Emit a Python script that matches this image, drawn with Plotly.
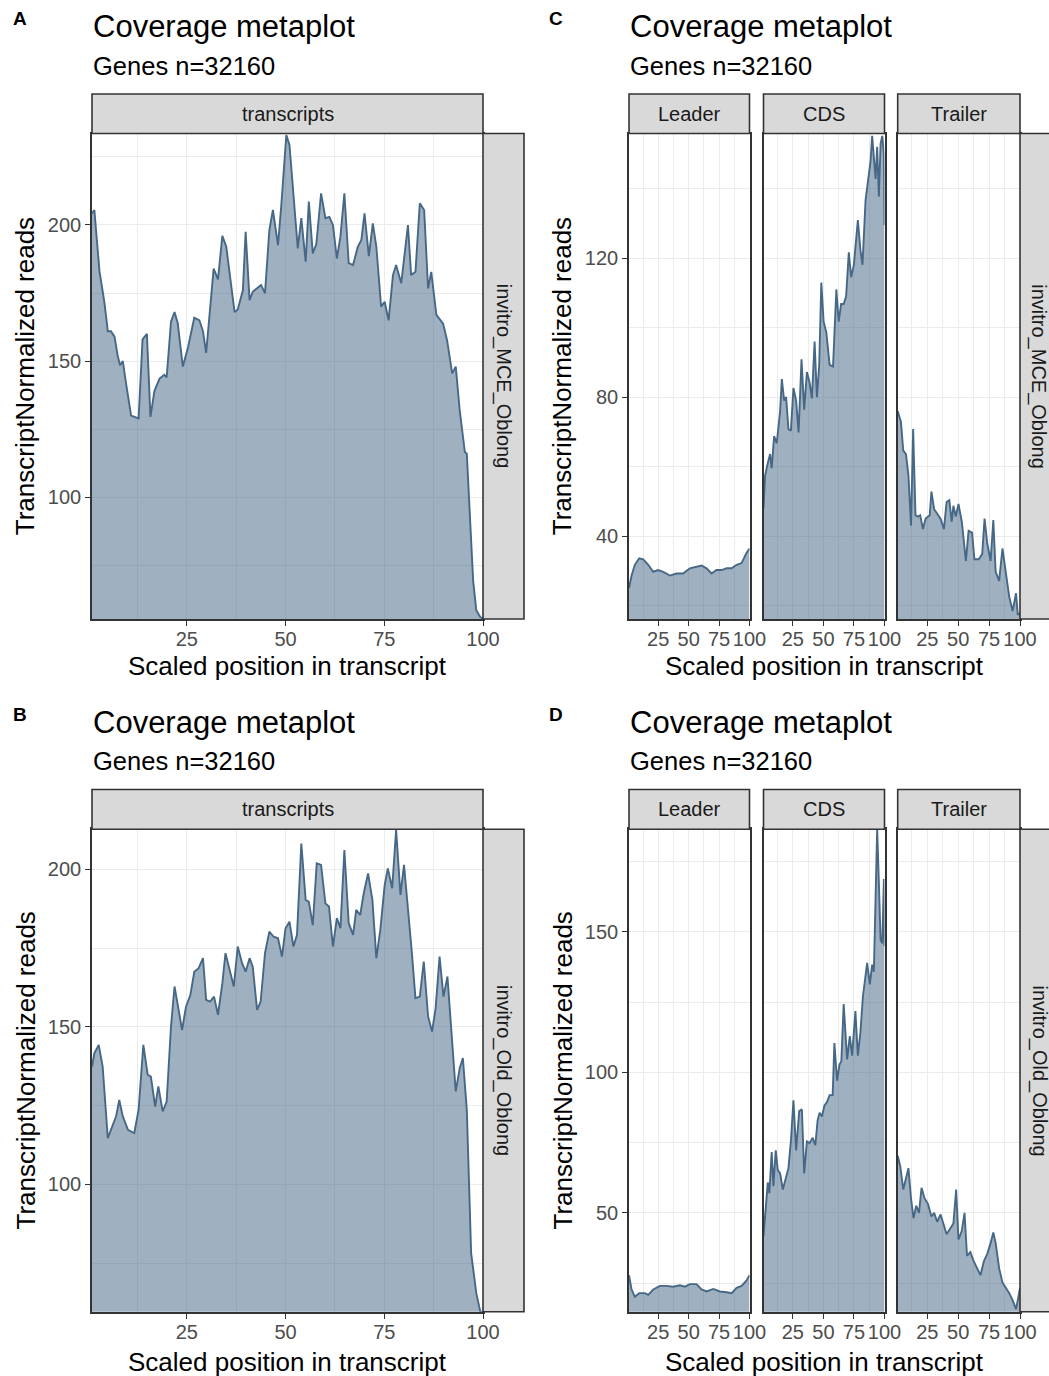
import plotly.graph_objects as go

# ---------------- data ----------------
X_TICKS = [25, 50, 75, 100]
Y_TICKS_A = [100, 150, 200]
Y_TICKS_C = [40, 80, 120]
Y_TICKS_B = [100, 150, 200]
Y_TICKS_D = [50, 100, 150]

FACETS = ["Leader", "CDS", "Trailer"]
SAMPLE_TOP = "invitro_MCE_Oblong"
SAMPLE_BOTTOM = "invitro_Old_Oblong"

# Panel A: invitro_MCE_Oblong, transcripts
mce_tx_x = [1, 1.6, 2.9, 4.1, 5.0, 5.8, 6.7, 7.5, 8.1, 8.8, 9.6, 10.9, 12.8, 13.8, 14.9, 15.8, 16.8, 18.1, 19.3, 19.9,
            21.0, 21.9, 22.7, 24.0, 25.3, 26.9, 28.2, 29.1, 29.9, 31.8, 32.9, 34.0, 35.0, 37.1, 37.9, 39.2, 39.9, 40.9,
            41.7, 43.8, 44.8, 45.9, 46.8, 48.1, 48.9, 50.2, 51.0, 52.0, 53.1, 54.0, 55.1, 55.9, 56.9, 57.8, 59.0, 60.1,
            61.1, 62.0, 63.0, 63.9, 64.9, 66.0, 67.1, 68.3, 69.2, 70.0, 71.1, 72.1, 73.0, 74.2, 75.1, 76.1, 77.2, 78.0,
            79.3, 81.0, 81.8, 82.9, 84.0, 85.1, 86.1, 86.9, 88.2, 89.9, 90.9, 92.2, 93.1, 94.1, 95.4, 95.9, 97.5, 98.3,
            99.3, 100]
mce_tx_y = [204.3, 205.5, 183, 172, 161, 161, 159, 152, 148.5, 150, 142, 130, 129, 158, 160, 129.5, 139, 143.6, 145,
            144, 164.5, 168, 164, 148, 155, 166, 165, 161, 153, 184, 180, 196, 192, 168, 169, 176, 197.5, 172.4, 175.5,
            178, 175, 198, 205.5, 192.6, 206.7, 233, 229.4, 210, 191.4, 202.5, 186.5, 208.6, 189.6, 193, 211.6, 202.5,
            203, 200, 187.7, 195.7, 211.6, 186, 185.3, 192, 194.5, 204.3, 188.6, 200.6, 192, 170, 171.8, 165, 181.6,
            185.3, 178.6, 200, 181.6, 182.8, 208, 205.5, 176.7, 182.8, 167, 163.8, 157.7, 145.5, 148, 132, 116.7, 116,
            69.5, 58.5, 56, 55.5]

# Panel C: invitro_MCE_Oblong, Leader / CDS / Trailer
mce_leader_x = [1, 3.1, 5.8, 9.4, 12.7, 16.8, 20.9, 25, 29.1, 34.6, 40.1, 45.5, 51.0, 56.5, 60.6, 64.7, 68.8, 72.9,
                77.1, 81.2, 85.3, 89.4, 93.5, 97.1, 100]
mce_leader_y = [25, 28.6, 31.7, 33.6, 33.3, 31.7, 29.7, 30.2, 29.7, 28.6, 29.2, 29.2, 30.7, 31.2, 31.5, 30.7, 29.2,
                30.2, 30.2, 30.7, 30.7, 31.7, 32.2, 34.8, 36.4]
mce_cds_x = [1, 2.3, 4.2, 6.4, 7.7, 9.7, 11.8, 14.6, 16.0, 17.9, 19.5, 21.4, 23.4, 25.5, 27.7, 29.7, 32.1, 34.3, 36.5,
             38.7, 40.6, 42.8, 44.7, 46.6, 48.3, 50.2, 52.4, 55.1, 57.9, 60.6, 62.5, 64.5, 66.6, 68.6, 70.8, 72.7, 74.9,
             76.8, 78.2, 80.3, 82.0, 84.5, 86.6, 88.6, 89.9, 91.3, 92.7, 94.0, 95.4, 96.8, 98.2, 99.5, 100]
mce_cds_y = [48, 57.4, 60.5, 63.6, 59.5, 68.8, 66.7, 76, 85.2, 79, 80, 70.8, 70.3, 82.6, 79, 69.8, 90.9, 76.4, 87.2,
             84.2, 79.6, 96, 80, 89.3, 113, 101.7, 98.6, 89.3, 88.8, 111, 101.7, 106.8, 106.8, 109, 121.7, 114.5, 118,
             125.9, 131, 122.3, 118.1, 136.7, 141.8, 148, 155.2, 150, 142.8, 152.1, 137.7, 153, 155.2, 150, 129.5]
mce_trailer_x = [1, 3.6, 5.5, 7.7, 9.7, 11.8, 13.5, 15.4, 17.3, 19.2, 21.4, 23.6, 26.9, 28.3, 30.5, 32.9, 35.7, 38.4,
                 40.6, 42.8, 44.7, 46.1, 48.0, 50.2, 52.9, 56.2, 58.4, 61.2, 63.1, 66.6, 69.4, 71.3, 73.5, 76.2, 78.4,
                 80.3, 83.1, 85.8, 88.6, 91.3, 94.0, 96.8, 98.2, 100]
mce_trailer_y = [76, 72.9, 64.6, 63.6, 57.4, 43, 70.8, 46, 45.6, 46, 42, 45, 46, 52.8, 47.7, 46.6, 45, 42, 49.8, 50.3,
                 44.1, 48.7, 45.6, 49.2, 44.1, 32.8, 41.5, 41, 33.3, 33.3, 34.8, 45, 37.9, 32.8, 44.6, 29.7, 27.1, 36.4,
                 28.6, 22.5, 18.4, 23.5, 17.3, 17.8]

# Panel B: invitro_Old_Oblong, transcripts
old_tx_x = [1, 1.6, 2.7, 3.7, 5.0, 5.8, 7.1, 7.9, 8.8, 10.1, 11.7, 12.8, 14.0, 15.1, 15.9, 17.0, 17.8, 18.9, 19.9, 21.0,
            21.9, 23.0, 23.8, 24.8, 25.9, 26.9, 28.0, 29.1, 29.9, 30.9, 31.9, 32.9, 34.0, 34.8, 35.8, 36.9, 37.9, 39.0,
            39.9, 40.9, 41.7, 42.8, 43.7, 44.8, 45.9, 47.0, 48.1, 49.1, 50.0, 51.0, 52.0, 52.9, 54.0, 55.1, 55.9, 56.9,
            57.9, 59.0, 60.1, 61.0, 62.0, 63.0, 63.9, 64.9, 66.0, 67.1, 67.9, 68.9, 69.8, 70.9, 72.0, 73.0, 74.0, 75.1,
            75.9, 77.0, 78.0, 79.1, 80.0, 81.0, 82.0, 82.9, 84.0, 85.0, 86.1, 87.1, 88.0, 89.0, 90.0, 91.0, 92.0, 93.1,
            94.1, 94.9, 95.9, 97.0, 98.3, 99.3, 100]
old_tx_y = [137.4, 141.6, 144.3, 137.4, 114.7, 117.3, 121.6, 126.8, 121.6, 117.3, 116.3, 123.7, 144.3, 134.8, 134.2,
            124.7, 131.1, 123.2, 126.3, 150.1, 162.8, 154.9, 149, 156.4, 160.1, 167.5, 168.6, 171.8, 158.6, 158,
            159.6, 153.8, 163.8, 173.4, 168.1, 162.8, 175.5, 170.2, 167.5, 171.8, 169.1, 155.4, 158, 173.4, 180.2,
            178.6, 178.1, 172.3, 181.3, 183.4, 175.5, 179.2, 208.2, 190.3, 189.7, 182.3, 201.9, 201.4, 189.2, 188.2,
            175.5, 184.5, 181.3, 206.1, 182.9, 179.2, 187.1, 185.5, 192.4, 198.7, 190.3, 171.8, 180.8, 195, 200.3,
            194, 212.5, 191.9, 201.4, 188.2, 173.4, 159.1, 159.6, 170.7, 153.3, 148.5, 155.9, 172.3, 159.6, 166,
            148, 129.5, 136.9, 140.1, 123.7, 78.2, 65.5, 59.7, 59.6]

# Panel D: invitro_Old_Oblong, Leader / CDS / Trailer
old_leader_x = [1, 3.1, 5.8, 9.4, 14.0, 16.8, 20.9, 26.4, 31.8, 37.3, 42.8, 46.9, 51.0, 56.5, 60.6, 64.7, 70.2, 75.7,
                81.2, 85.3, 89.4, 93.5, 97.6, 100]
old_leader_y = [27.8, 22.7, 20.1, 21.4, 21.4, 20.8, 22.7, 24, 24, 23.7, 24.2, 23.7, 24.6, 24.6, 22.7, 22, 22.9, 22,
                21.7, 21.4, 23.3, 24, 25.9, 27.8]
old_cds_x = [1, 2.8, 4.5, 5.8, 7.7, 9.1, 11.0, 12.7, 14.6, 16.8, 18.7, 21.4, 23.4, 25.5, 27.7, 30.2, 32.4, 34.3, 36.5,
             38.7, 41.2, 43.4, 45.3, 46.9, 48.8, 50.8, 52.9, 55.1, 57.6, 59.0, 61.2, 63.1, 64.7, 66.6, 69.4, 71.6,
             73.5, 76.2, 78.2, 80.3, 82.3, 84.5, 85.8, 88.0, 89.9, 91.3, 92.7, 94.0, 95.4, 96.8, 98.2, 99.5, 100]
old_cds_y = [41.7, 51.9, 60.8, 57, 71.6, 59.5, 72.2, 65.2, 64, 58.3, 61.4, 65.9, 75.4, 90, 72.2, 86.2, 86.8, 64, 75.4,
             74.8, 76.7, 74.1, 83, 85.6, 84.3, 88.1, 89.4, 91.9, 91.9, 110.4, 97, 102.7, 104, 124.3, 104.6, 112.9,
             105.9, 121.8, 105.9, 114.2, 126.9, 133.9, 139, 131.3, 138.3, 135.8, 162.5, 186.6, 167.5, 147.2, 145.9,
             168.8, 145]
old_trailer_x = [1, 3.1, 5.5, 7.7, 9.7, 11.8, 13.8, 16.0, 18.2, 20.3, 22.8, 25.5, 28.3, 30.5, 32.9, 35.7, 37.9, 40.6,
                 43.4, 46.1, 48.3, 50.2, 52.9, 55.1, 57.1, 59.8, 62.5, 65.3, 68.0, 70.8, 73.5, 76.2, 78.4, 80.3, 83.1,
                 85.8, 88.6, 91.3, 94.0, 96.8, 98.7, 100]
old_trailer_y = [70.3, 66.5, 58.3, 62.1, 65.9, 55.1, 48.1, 52.5, 50, 58.9, 55.1, 53.2, 48.7, 50, 46.8, 49.4, 46.2, 42.4,
                 44.3, 46.2, 58.3, 40.5, 43.6, 50, 34.7, 36, 32.8, 30.3, 27.8, 32.8, 35.4, 39.2, 43, 39.2, 30.3, 25.2,
                 23.3, 21.4, 18.9, 15.7, 20.1, 23.3]

# ---------------- layout helpers ----------------
W, H = 1049, 1376
FONT = "Liberation Sans, Arial, Helvetica, sans-serif"
LINE_COLOR = "rgb(70,104,134)"
FILL_COLOR = "rgba(70,104,134,0.52)"
BORDER = "#333333"
GRID = "#EBEBEB"
STRIP_FILL = "#D9D9D9"


def px(x):
    return x / W


def py(y):
    return 1 - y / H


def minor_between(vals, lo, hi):
    step = vals[1] - vals[0]
    out = []
    v = vals[0] - step / 2
    while v > lo:
        out.insert(0, v)
        v -= step
    v = vals[0] + step / 2
    while v < hi:
        out.append(v)
        v += step
    return out


TOP_Y = (133.5, 619)
BOT_Y = (829.3, 1311.7)
LEFT_X = (92, 483)
RIGHT_X = [(629, 749.5), (763.5, 884.5), (897.7, 1020)]

panels = [
    # (x, y, xpx, ypx, yrange, yticks, show_y_labels)
    (mce_tx_x, mce_tx_y, LEFT_X, TOP_Y, (55.3, 233.6), Y_TICKS_A, True),
    (mce_leader_x, mce_leader_y, RIGHT_X[0], TOP_Y, (16.1, 155.9), Y_TICKS_C, True),
    (mce_cds_x, mce_cds_y, RIGHT_X[1], TOP_Y, (16.1, 155.9), Y_TICKS_C, False),
    (mce_trailer_x, mce_trailer_y, RIGHT_X[2], TOP_Y, (16.1, 155.9), Y_TICKS_C, False),
    (old_tx_x, old_tx_y, LEFT_X, BOT_Y, (59.6, 212.7), Y_TICKS_B, True),
    (old_leader_x, old_leader_y, RIGHT_X[0], BOT_Y, (14.8, 186.5), Y_TICKS_D, True),
    (old_cds_x, old_cds_y, RIGHT_X[1], BOT_Y, (14.8, 186.5), Y_TICKS_D, False),
    (old_trailer_x, old_trailer_y, RIGHT_X[2], BOT_Y, (14.8, 186.5), Y_TICKS_D, False),
]

fig = go.Figure()
layout = {}
for i, (xs, ys, xpx, ypx, yr, yt, showy) in enumerate(panels, start=1):
    xn = "xaxis" if i == 1 else f"xaxis{i}"
    yn = "yaxis" if i == 1 else f"yaxis{i}"
    xr = "x" if i == 1 else f"x{i}"
    yrf = "y" if i == 1 else f"y{i}"
    fig.add_trace(go.Scatter(x=xs, y=ys, xaxis=xr, yaxis=yrf, mode="lines", fill="tozeroy",
                             fillcolor=FILL_COLOR, line=dict(color=LINE_COLOR, width=1.9),
                             showlegend=False, hoverinfo="skip"))
    layout[xn] = dict(domain=[px(xpx[0]), px(xpx[1])], range=[1, 100], anchor=yrf, automargin=False,
                      tickmode="array", tickvals=X_TICKS, tickangle=0, ticklabelstandoff=-4,
                      showgrid=True, gridcolor=GRID, gridwidth=1.2,
                      minor=dict(tickmode="array", tickvals=minor_between(X_TICKS, 1, 100),
                                 showgrid=True, gridcolor=GRID, gridwidth=0.6, ticks=""),
                      showline=True, linecolor=BORDER, linewidth=1.6, mirror=True,
                      ticks="outside", ticklen=5, tickwidth=1.2, tickcolor=BORDER,
                      tickfont=dict(size=20, color="#4D4D4D", family=FONT),
                      zeroline=False, fixedrange=True)
    layout[yn] = dict(domain=[py(ypx[1]), py(ypx[0])], range=list(yr), anchor=xr, automargin=False,
                      tickmode="array", tickvals=yt,
                      showticklabels=showy, ticks="outside" if showy else "",
                      ticklen=5, tickwidth=1.2, tickcolor=BORDER,
                      showgrid=True, gridcolor=GRID, gridwidth=1.2,
                      minor=dict(tickmode="array", tickvals=minor_between(yt, yr[0], yr[1]),
                                 showgrid=True, gridcolor=GRID, gridwidth=0.6, ticks=""),
                      showline=True, linecolor=BORDER, linewidth=1.6, mirror=True,
                      tickfont=dict(size=20, color="#4D4D4D", family=FONT),
                      zeroline=False, fixedrange=True)

shapes = []
annotations = []


def rect(x0, x1, y0, y1):
    shapes.append(dict(type="rect", xref="paper", yref="paper", x0=px(x0), x1=px(x1), y0=py(y1), y1=py(y0),
                       fillcolor=STRIP_FILL, line=dict(color=BORDER, width=1.6), layer="above"))


def text(t, x, y, size, color="#000000", xanchor="center", angle=0, bold=False):
    annotations.append(dict(text=f"<b>{t}</b>" if bold else t, x=px(x), y=py(y), xref="paper", yref="paper",
                            xanchor=xanchor, yanchor="middle", showarrow=False, textangle=angle,
                            font=dict(size=size, color=color, family=FONT)))


for off, sample, lab_l, lab_r in [(0, SAMPLE_TOP, "A", "C"), (695.5, SAMPLE_BOTTOM, "B", "D")]:
    ytop, ybot = (TOP_Y if off == 0 else BOT_Y)
    strip_top = 94 + off
    ymid = (ytop + ybot) / 2
    # left panel strips
    rect(LEFT_X[0], LEFT_X[1], strip_top, ytop)
    text("transcripts", sum(LEFT_X) / 2, (strip_top + ytop) / 2, 20, "#1A1A1A")
    rect(LEFT_X[1], LEFT_X[1] + 41, ytop, ybot)
    text(sample, LEFT_X[1] + 20.5, ymid, 20, "#1A1A1A", angle=90)
    # right panel strips
    for (a, b), name in zip(RIGHT_X, FACETS):
        rect(a, b, strip_top, ytop)
        text(name, (a + b) / 2, (strip_top + ytop) / 2, 20, "#1A1A1A")
    rect(RIGHT_X[2][1], RIGHT_X[2][1] + 41, ytop, ybot)
    text(sample, RIGHT_X[2][1] + 19, ymid, 20, "#1A1A1A", angle=90)
    # titles
    for x0, lab, xl in [(LEFT_X[0], lab_l, 19.5), (RIGHT_X[0][0], lab_r, 556)]:
        text(lab, xl, 19 + off, 19, bold=True)
        text("Coverage metaplot", x0 - 1, 27 + off, 31, xanchor="left")
        text("Genes n=32160", x0 - 1, 66 + off, 25.5, xanchor="left")
    # axis titles
    text("Scaled position in transcript", sum(LEFT_X) / 2, 666 + off, 26)
    text("Scaled position in transcript", (RIGHT_X[0][0] + RIGHT_X[2][1]) / 2, 666 + off, 26)
    text("TranscriptNormalized reads", 25, ymid, 26, angle=-90)
    text("TranscriptNormalized reads", 562, ymid, 26, angle=-90)

fig.update_layout(width=W, height=H, autosize=False, margin=dict(l=0, r=0, t=0, b=0, pad=0, autoexpand=False),
                  paper_bgcolor="white", plot_bgcolor="white", font=dict(family=FONT),
                  shapes=shapes, annotations=annotations, showlegend=False, **layout)

fig.write_html("out.html", config={"responsive": False},
               post_script="document.body.style.margin='0';document.body.style.padding='0';"
                           "document.documentElement.style.overflow='hidden';"
                           "document.body.style.overflow='hidden';")
